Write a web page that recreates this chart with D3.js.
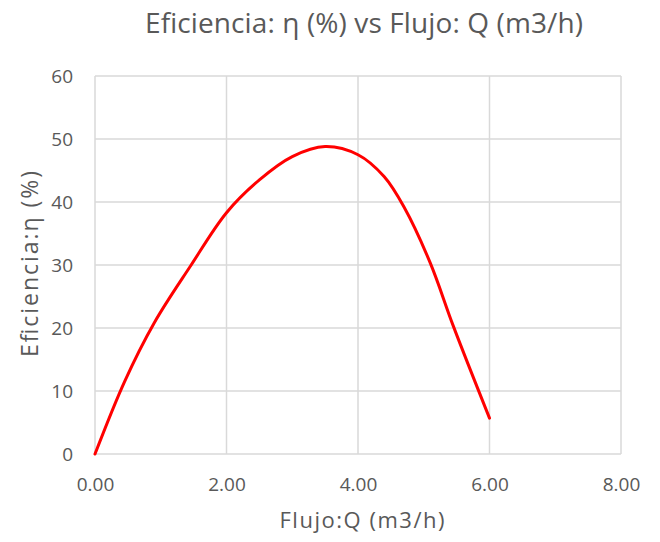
<!doctype html>
<html>
<head>
<meta charset="UTF-8">
<title>Eficiencia vs Flujo</title>
<script src="https://cdn.jsdelivr.net/npm/d3@7"></script>
<style>
  body { margin: 0; background: #fff; }
  text { font-family: "Open Sans", "Noto Sans", sans-serif; fill: #595959; }
</style>
</head>
<body>
<svg id="chart"></svg>
<script>
// flow Q (m3/h) and efficiency (%)
const flujo      = [0, 0.45, 0.9, 1.45, 2.0, 2.5, 3.0, 3.5, 4.0, 4.4, 4.7, 5.1, 5.45, 6.0];
const eficiencia = [0, 11.5, 20.8, 29.8, 38.3, 43.5, 47.2, 48.8, 47.5, 44.0, 39.2, 30.3, 20.3, 5.7];
const xTicks = [0, 2, 4, 6, 8];
const yTicks = [0, 10, 20, 30, 40, 50, 60];

const width = 660, height = 542;
const margin = {top: 76, right: 39, bottom: 88, left: 95};

const svg = d3.select('#chart').attr('width', width).attr('height', height);

const x = d3.scaleLinear().domain([0, 8]).range([margin.left, width - margin.right]);
const y = d3.scaleLinear().domain([0, 60]).range([height - margin.bottom, margin.top]);

// gridlines
svg.append('g')
  .selectAll('line')
  .data(xTicks)
  .join('line')
    .attr('x1', d => x(d)).attr('x2', d => x(d))
    .attr('y1', y(0)).attr('y2', y(60))
    .attr('stroke', '#d9d9d9').attr('stroke-width', 1.5);

svg.append('g')
  .selectAll('line')
  .data(yTicks)
  .join('line')
    .attr('x1', x(0)).attr('x2', x(8))
    .attr('y1', d => y(d)).attr('y2', d => y(d))
    .attr('stroke', '#d9d9d9').attr('stroke-width', 1.5);

// axes (labels only, Excel style)
const xAxis = svg.append('g')
  .attr('transform', 'translate(0,' + y(0) + ')')
  .call(d3.axisBottom(x).tickValues(xTicks).tickFormat(d3.format('.2f')).tickSize(0).tickPadding(24));
xAxis.select('.domain').remove();
xAxis.selectAll('text').style('font-size', '19px').attr('fill', '#595959');

const yAxis = svg.append('g')
  .attr('transform', 'translate(' + x(0) + ',0)')
  .call(d3.axisLeft(y).tickValues(yTicks).tickSize(0).tickPadding(22));
yAxis.select('.domain').remove();
yAxis.selectAll('text').style('font-size', '19px').attr('fill', '#595959');

// the curve
const line = d3.line()
  .x((d, i) => x(flujo[i]))
  .y(d => y(d))
  .curve(d3.curveCatmullRom.alpha(0.5));

svg.append('path')
  .datum(eficiencia)
  .attr('fill', 'none')
  .attr('stroke', '#ff0000')
  .attr('stroke-width', 3)
  .attr('stroke-linecap', 'round')
  .attr('d', line);

// titles
svg.append('text')
  .attr('x', 364).attr('y', 33)
  .attr('text-anchor', 'middle')
  .attr('textLength', 438)
  .attr('lengthAdjust', 'spacing')
  .style('font-size', '28px')
  .text('Eficiencia: η (%) vs Flujo: Q (m3/h)');

svg.append('text')
  .attr('x', 362).attr('y', 528)
  .attr('text-anchor', 'middle')
  .attr('textLength', 165)
  .attr('lengthAdjust', 'spacing')
  .style('font-size', '22px')
  .text('Flujo:Q (m3/h)');

svg.append('text')
  .attr('transform', 'translate(38,264) rotate(-90)')
  .attr('text-anchor', 'middle')
  .attr('textLength', 186)
  .attr('lengthAdjust', 'spacing')
  .style('font-size', '23px')
  .text('Eficiencia:η (%)');
</script>
</body>
</html>
